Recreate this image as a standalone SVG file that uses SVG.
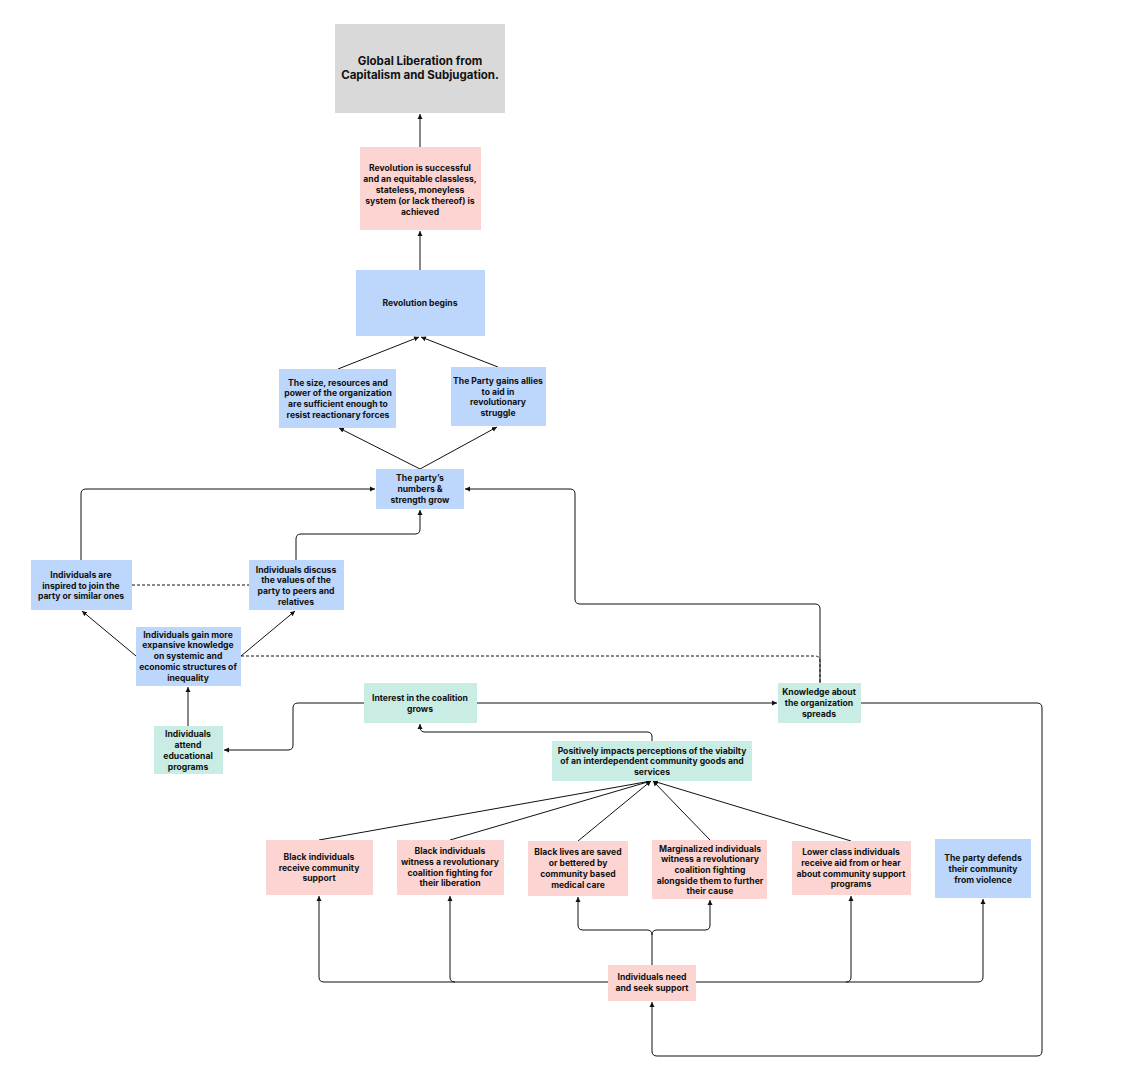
<svg xmlns="http://www.w3.org/2000/svg" width="1121" height="1080" viewBox="0 0 1121 1080">
<defs>
<marker id="a" markerWidth="6" markerHeight="6" refX="5" refY="3" orient="auto" markerUnits="userSpaceOnUse"><path d="M0,0.5 L5,3 L0,5.5 Z" fill="#111"/></marker>
<style>
.b{fill:#bcd6fc}.p{fill:#fcd5d2}.g{fill:#c9ece4}.gr{fill:#d9d9d9}
text{font-family:Inter,"Liberation Sans",sans-serif;font-weight:700;font-size:8.6px;fill:#111;text-anchor:middle}
.c path{fill:none;stroke:#111;stroke-width:1}
.d{stroke-dasharray:3,2}
</style>
</defs>
<rect width="1121" height="1080" fill="#fff"/>
<g class="c">
<path d="M420,147 V114" marker-end="url(#a)"/>
<path d="M420,270 V231" marker-end="url(#a)"/>
<path d="M338,369 L419,337" marker-end="url(#a)"/>
<path d="M498,367 L421,337" marker-end="url(#a)"/>
<path d="M420,469 L339,428" marker-end="url(#a)"/>
<path d="M420,469 L497,427" marker-end="url(#a)"/>
<path d="M81,560 V494 Q81,489 86,489 H375" marker-end="url(#a)"/>
<path d="M296,560 V539 Q296,534 301,534 H415 Q420,534 420,529 V510" marker-end="url(#a)"/>
<path class="d" d="M132,585 H249"/>
<path d="M136,656 L82,611" marker-end="url(#a)"/>
<path d="M241,656 L295,611" marker-end="url(#a)"/>
<path class="d" d="M241,656 H815 Q820,656 820,661 V683"/>
<path d="M820,683 V609 Q820,604 815,604 H580 Q575,604 575,599 V494 Q575,489 570,489 H465" marker-end="url(#a)"/>
<path d="M188,726 V687" marker-end="url(#a)"/>
<path d="M364,703 H298 Q293,703 293,708 V745 Q293,750 288,750 H224" marker-end="url(#a)"/>
<path d="M477,703 H777" marker-end="url(#a)"/>
<path d="M652,741 V737 Q652,732 647,732 H425 Q420,732 420,727 V724" marker-end="url(#a)"/>
<path d="M319,840 L651,781" marker-end="url(#a)"/>
<path d="M450,840 L651,781" marker-end="url(#a)"/>
<path d="M578,841 L651,781" marker-end="url(#a)"/>
<path d="M710,840 L653,781" marker-end="url(#a)"/>
<path d="M851,841 L653,781" marker-end="url(#a)"/>
<path d="M652,965 V935 Q652,930 647,930 H583 Q578,930 578,925 V897" marker-end="url(#a)"/>
<path d="M652,935 Q652,930 657,930 H705 Q710,930 710,925 V900" marker-end="url(#a)"/>
<path d="M608,982 H324 Q319,982 319,977 V896" marker-end="url(#a)"/>
<path d="M455,982 Q450,982 450,977 V896" marker-end="url(#a)"/>
<path d="M696,982 H978 Q983,982 983,977 V899" marker-end="url(#a)"/>
<path d="M846,982 Q851,982 851,977 V896" marker-end="url(#a)"/>
<path d="M861,703 H1037 Q1042,703 1042,708 V1051 Q1042,1056 1037,1056 H657 Q652,1056 652,1051 V1002" marker-end="url(#a)"/>
</g>
<g id="n1"><rect class="gr" x="335" y="24" width="170" height="89"/><text x="420" y="65" style="font-size:11.5px">Global Liberation from</text><text x="420" y="79" style="font-size:11.5px">Capitalism and Subjugation.</text></g>
<g id="n2"><rect class="p" x="360" y="147" width="121" height="83"/><text x="420" y="171">Revolution is successful</text><text x="420" y="182">and an equitable classless,</text><text x="420" y="193">stateless, moneyless</text><text x="420" y="204">system (or lack thereof) is</text><text x="420" y="215">achieved</text></g>
<g id="n3"><rect class="b" x="356" y="270" width="129" height="66"/><text x="420" y="306">Revolution begins</text></g>
<g id="n4"><rect class="b" x="279" y="369" width="117" height="59"/><text x="338" y="386">The size, resources and</text><text x="338" y="396">power of the organization</text><text x="338" y="407">are sufficient enough to</text><text x="338" y="418">resist reactionary forces</text></g>
<g id="n5"><rect class="b" x="451" y="367" width="95" height="59"/><text x="498" y="384">The Party gains allies</text><text x="498" y="395">to aid in</text><text x="498" y="405">revolutionary</text><text x="498" y="416">struggle</text></g>
<g id="n6"><rect class="b" x="376" y="469" width="88" height="40"/><text x="420" y="481">The party’s</text><text x="420" y="492">numbers &amp;</text><text x="420" y="503">strength grow</text></g>
<g id="n7"><rect class="b" x="31" y="560" width="101" height="50"/><text x="81" y="578">Individuals are</text><text x="81" y="589">inspired to join the</text><text x="81" y="599">party or similar ones</text></g>
<g id="n8"><rect class="b" x="249" y="560" width="95" height="50"/><text x="296" y="573">Individuals discuss</text><text x="296" y="583">the values of the</text><text x="296" y="594">party to peers and</text><text x="296" y="605">relatives</text></g>
<g id="n9"><rect class="b" x="136" y="627" width="105" height="59"/><text x="188" y="638">Individuals gain more</text><text x="188" y="648">expansive knowledge</text><text x="188" y="659">on systemic and</text><text x="188" y="670">economic structures of</text><text x="188" y="681">inequality</text></g>
<g id="n10"><rect class="g" x="154" y="726" width="69" height="48"/><text x="188" y="737">Individuals</text><text x="188" y="748">attend</text><text x="188" y="759">educational</text><text x="188" y="770">programs</text></g>
<g id="n11"><rect class="g" x="364" y="683" width="113" height="40"/><text x="420" y="701">Interest in the coalition</text><text x="420" y="712">grows</text></g>
<g id="n12"><rect class="g" x="778" y="683" width="83" height="40"/><text x="819" y="695">Knowledge about</text><text x="819" y="706">the organization</text><text x="819" y="717">spreads</text></g>
<g id="n13"><rect class="g" x="552" y="741" width="200" height="40"/><text x="652" y="754">Positively impacts perceptions of the viabilty</text><text x="652" y="764">of an interdependent community goods and</text><text x="652" y="775">services</text></g>
<g id="n14"><rect class="p" x="266" y="840" width="107" height="55"/><text x="319" y="860">Black individuals</text><text x="319" y="871">receive community</text><text x="319" y="881">support</text></g>
<g id="n15"><rect class="p" x="397" y="840" width="107" height="55"/><text x="450" y="854">Black individuals</text><text x="450" y="865">witness a revolutionary</text><text x="450" y="876">coalition fighting for</text><text x="450" y="886">their liberation</text></g>
<g id="n16"><rect class="p" x="528" y="841" width="100" height="55"/><text x="578" y="855">Black lives are saved</text><text x="578" y="866">or bettered by</text><text x="578" y="877">community based</text><text x="578" y="888">medical care</text></g>
<g id="n17"><rect class="p" x="652" y="840" width="115" height="59"/><text x="710" y="852">Marginalized individuals</text><text x="710" y="862">witness a revolutionary</text><text x="710" y="873">coalition fighting</text><text x="710" y="884">alongside them to further</text><text x="710" y="894">their cause</text></g>
<g id="n18"><rect class="p" x="792" y="841" width="119" height="54"/><text x="851" y="855">Lower class individuals</text><text x="851" y="866">receive aid from or hear</text><text x="851" y="877">about community support</text><text x="851" y="887">programs</text></g>
<g id="n19"><rect class="b" x="935" y="839" width="96" height="59"/><text x="983" y="861">The party defends</text><text x="983" y="872">their community</text><text x="983" y="883">from violence</text></g>
<g id="n20"><rect class="p" x="608" y="965" width="88" height="36"/><text x="652" y="980">Individuals need</text><text x="652" y="991">and seek support</text></g>
</svg>
